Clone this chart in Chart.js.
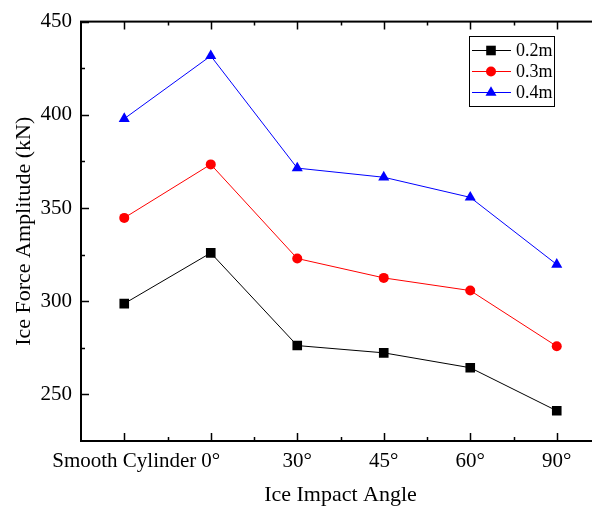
<!DOCTYPE html>
<html>
<head>
<meta charset="utf-8">
<script src="https://cdn.jsdelivr.net/npm/chart.js@4"></script>
<style>
  html, body { margin: 0; padding: 0; background: #fff; overflow: hidden; }
  #wrap { width: 610px; height: 510px; }
</style>
</head>
<body>
<div id="wrap"><canvas id="chart" width="610" height="510"></canvas></div>
<script>
// categories along the x axis
const categories = ["Smooth Cylinder", "0°", "30°", "45°", "60°", "90°"];

// ice force amplitude (kN) per ice thickness
const force02 = [298.7, 325.9, 276.2, 272.3, 264.3, 241.2];
const force03 = [344.7, 373.4, 322.9, 312.5, 305.7, 275.8];
const force04 = [397.9, 431.6, 371.4, 366.5, 355.7, 319.7];

const seriesNames = ["0.2m", "0.3m", "0.4m"];
const yTicks = [250, 300, 350, 400, 450];
const yMinorTicks = [275, 325, 375, 425];

const serif = "'Liberation Serif', 'Times New Roman', serif";

// frame with inward ticks, boxed legend and axis titles, drawn like Origin does
const framePlugin = {
  id: "frame",
  afterDraw(chart) {
    const ctx = chart.ctx;
    const a = chart.chartArea;
    const x = chart.scales.x;
    const y = chart.scales.y;
    ctx.save();
    ctx.strokeStyle = "#000";
    ctx.lineWidth = 2;
    ctx.strokeRect(a.left, a.top, a.right - a.left, a.bottom - a.top);

    ctx.lineWidth = 1.5;
    ctx.beginPath();
    const tick = (x1, y1, x2, y2) => { ctx.moveTo(x1, y1); ctx.lineTo(x2, y2); };
    yTicks.forEach(v => {
      const py = Math.round(y.getPixelForValue(v)) + 0.5;
      tick(a.left, py, a.left + 8, py);
      tick(a.right, py, a.right - 8, py);
    });
    yMinorTicks.forEach(v => {
      const py = Math.round(y.getPixelForValue(v)) + 0.5;
      tick(a.left, py, a.left + 4, py);
      tick(a.right, py, a.right - 4, py);
    });
    categories.forEach((c, i) => {
      const px = Math.round(x.getPixelForValue(i)) + 0.5;
      tick(px, a.bottom, px, a.bottom - 8);
      tick(px, a.top, px, a.top + 8);
      if (i < categories.length - 1) {
        const mx = Math.round((x.getPixelForValue(i) + x.getPixelForValue(i + 1)) / 2) + 0.5;
        tick(mx, a.bottom, mx, a.bottom - 4);
        tick(mx, a.top, mx, a.top + 4);
      }
    });
    ctx.stroke();

    // legend
    const lx = 469.5, ly = 36.5, lw = 85, lh = 70;
    ctx.lineWidth = 1;
    ctx.strokeRect(lx, ly, lw, lh);
    chart.data.datasets.forEach((ds, i) => {
      const ry = 50 + i * 21;
      ctx.strokeStyle = ds.borderColor;
      ctx.lineWidth = 1;
      ctx.beginPath();
      ctx.moveTo(472, ry + 0.5);
      ctx.lineTo(511, ry + 0.5);
      ctx.stroke();
      ctx.fillStyle = ds.pointBackgroundColor;
      const mx = 491, my = ry + 0.5;
      ctx.beginPath();
      if (ds.pointStyle === "rect") {
        ctx.rect(mx - 4.8, my - 4.8, 9.6, 9.6);
      } else if (ds.pointStyle === "circle") {
        ctx.arc(mx, my, 5, 0, Math.PI * 2);
      } else {
        ctx.moveTo(mx, my - 6.3);
        ctx.lineTo(mx + 5.5, my + 3.2);
        ctx.lineTo(mx - 5.5, my + 3.2);
        ctx.closePath();
      }
      ctx.fill();
      ctx.fillStyle = "#000";
      ctx.font = "18px " + serif;
      ctx.textBaseline = "middle";
      ctx.textAlign = "left";
      ctx.fillText(ds.label, 516, ry + 1);
    });

    // axis titles
    ctx.fillStyle = "#000";
    ctx.font = "22px " + serif;
    ctx.textAlign = "center";
    ctx.textBaseline = "middle";
    ctx.fillText("Ice Impact Angle", (a.left + a.right) / 2, 495);
    ctx.translate(24, (a.top + a.bottom) / 2);
    ctx.rotate(-Math.PI / 2);
    ctx.fillText("Ice Force Amplitude (kN)", 0, 0);
    ctx.restore();
  }
};

new Chart(document.getElementById("chart"), {
  type: "line",
  data: {
    labels: categories,
    datasets: [
      {
        label: seriesNames[0],
        data: force02,
        borderColor: "#000000",
        pointBackgroundColor: "#000000",
        pointBorderColor: "#000000",
        pointStyle: "rect",
        pointRadius: 6.8,
      },
      {
        label: seriesNames[1],
        data: force03,
        borderColor: "#ff0000",
        pointBackgroundColor: "#ff0000",
        pointBorderColor: "#ff0000",
        pointStyle: "circle",
        pointRadius: 5,
      },
      {
        label: seriesNames[2],
        data: force04,
        borderColor: "#0000ff",
        pointBackgroundColor: "#0000ff",
        pointBorderColor: "#0000ff",
        pointStyle: "triangle",
        pointRadius: 6.4,
      },
    ].map(ds => Object.assign(ds, { borderWidth: 1, pointBorderWidth: 0, tension: 0 })),
  },
  options: {
    responsive: false,
    animation: false,
    layout: { padding: { top: 19, right: 10, left: 0, bottom: 0 } },
    plugins: {
      legend: { display: false },
      tooltip: { enabled: false },
    },
    scales: {
      x: {
        offset: true,
        grid: { display: false, drawTicks: false },
        border: { display: false },
        ticks: {
          color: "#000",
          font: { family: serif, size: 21 },
          padding: 8,
          maxRotation: 0,
          autoSkip: false,
        },
        afterFit(scale) { scale.height = 69; },
      },
      y: {
        min: 225,
        max: 450,
        grid: { display: false, drawTicks: false },
        border: { display: false },
        ticks: {
          color: "#000",
          font: { family: serif, size: 21 },
          padding: 9,
        },
        afterBuildTicks(scale) { scale.ticks = yTicks.map(v => ({ value: v })); },
        afterFit(scale) { scale.width = 81; },
      },
    },
  },
  plugins: [framePlugin],
});
</script>
</body>
</html>
